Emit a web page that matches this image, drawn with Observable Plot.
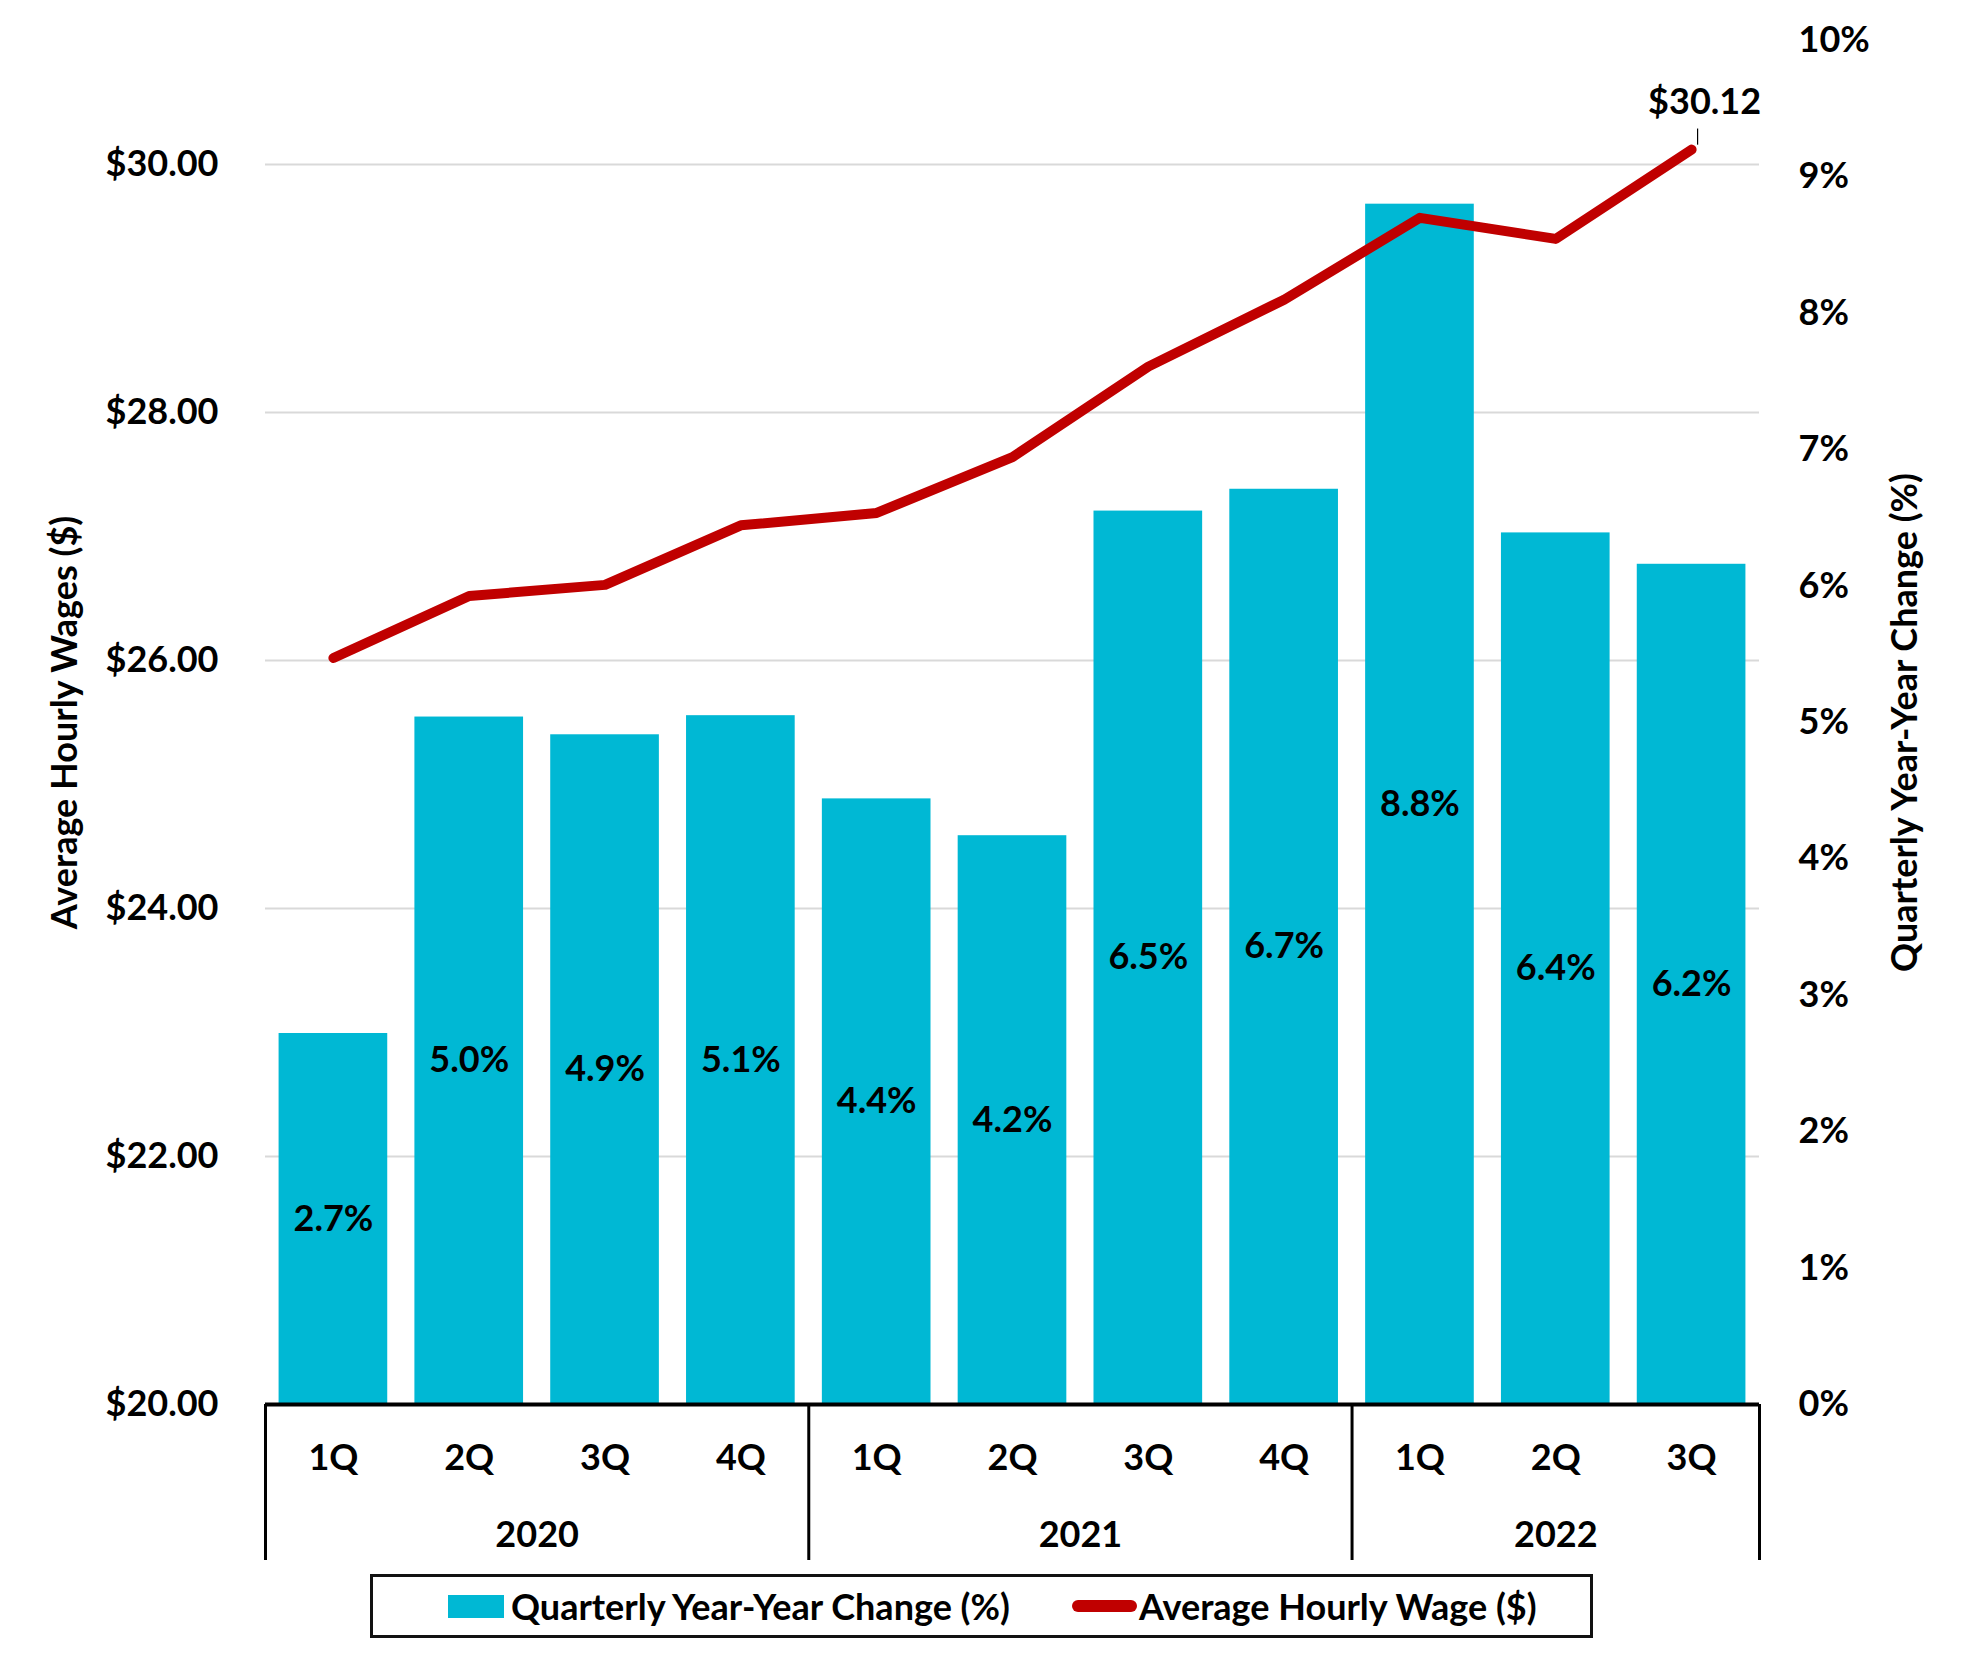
<!DOCTYPE html>
<html>
<head>
<meta charset="utf-8">
<script src="https://cdn.jsdelivr.net/npm/d3@7"></script>
<script src="https://cdn.jsdelivr.net/npm/@observablehq/plot@0.6"></script>
<style>
  body { margin: 0; background: #fff; font-family: Lato, "Open Sans", sans-serif; }
  #chart svg { display: block; }
  #legend {
    position: relative; margin-left: 370px; margin-top: 9px;
    width: 1217px; height: 58px; border: 3px solid #111; box-sizing: content-box;
    font-family: Lato, sans-serif; font-weight: bold; font-size: 36px; color: #000;
  }
  #legend .sw { position: absolute; left: 75px; top: 18px; width: 56px; height: 23px; }
  #legend .ln { position: absolute; left: 699px; top: 23px; width: 65px; height: 12px; border-radius: 6px; }
  #legend .t { position: absolute; top: 0; line-height: 58px; white-space: nowrap; }
</style>
</head>
<body>
<div id="chart"></div>
<div id="legend"></div>
<script>
// ---- data ----
const years = ["2020","2020","2020","2020","2021","2021","2021","2021","2022","2022","2022"];
const quarters = ["1Q","2Q","3Q","4Q","1Q","2Q","3Q","4Q","1Q","2Q","3Q"];
const pctChange = [2.72, 5.04, 4.91, 5.05, 4.44, 4.17, 6.55, 6.71, 8.80, 6.39, 6.16];
const pctLabels = ["2.7%","5.0%","4.9%","5.1%","4.4%","4.2%","6.5%","6.7%","8.8%","6.4%","6.2%"];
const wage = [26.02, 26.52, 26.61, 27.09, 27.19, 27.64, 28.37, 28.91, 29.57, 29.40, 30.12];
const wageTicks = [20, 22, 24, 26, 28, 30];
const pctTicks = [0, 1, 2, 3, 4, 5, 6, 7, 8, 9, 10];
const wageDomain = [20, 31];
const pctDomain = [0, 10];
const seriesNames = ["Quarterly Year-Year Change (%)", "Average Hourly Wage ($)"];
const axisTitles = ["Average Hourly Wages ($)", "Quarterly Year-Year Change (%)"];
const lastLabel = "$30.12";
const colors = {bar: "#00B8D4", line: "#C00000"};

// ---- layout ----
const W = 1963, H = 1565, ML = 265, MR = 204, MT = 40, MB = 5, plotBottom = 1404;
const FONT = 36;
const n = years.length;
const step = (W - ML - MR) / n;
const pxPerUnit = (plotBottom - MT) / (wageDomain[1] - wageDomain[0]);
const sepDepth = 156 / pxPerUnit;

const keys = years.map((y, i) => y + "|" + quarters[i]);
const data = keys.map((k, i) => ({key: k, year: years[i], q: quarters[i], pct: pctChange[i], label: pctLabels[i], wage: wage[i]}));
const toDollar = p => wageDomain[0] + (p - pctDomain[0]) * (wageDomain[1] - wageDomain[0]) / (pctDomain[1] - pctDomain[0]);
const toPct = v => pctDomain[0] + (v - wageDomain[0]) * (pctDomain[1] - pctDomain[0]) / (wageDomain[1] - wageDomain[0]);
const base = wageDomain[0];
const yMid = (wageDomain[0] + wageDomain[1]) / 2;

// year groups
const groups = [];
years.forEach((y, i) => {
  const g = groups.find(g => g.year === y);
  if (g) g.last = i; else groups.push({year: y, first: i, last: i});
});
const groupStarts = groups.map(g => keys[g.first]);
const lastKey = keys[n - 1];
const last = data[n - 1];

const bold = {fontSize: FONT, fontWeight: "bold", fill: "#000"};

const chart = Plot.plot({
  width: W, height: H,
  marginLeft: ML, marginRight: MR, marginTop: MT, marginBottom: MB,
  style: {fontFamily: "Lato, sans-serif", fontSize: FONT + "px", fontWeight: "bold", color: "#000", background: "#fff", overflow: "visible"},
  x: {type: "band", domain: keys, paddingInner: 0.2, paddingOuter: 0.1, round: false, axis: null},
  y: {domain: wageDomain, range: [plotBottom, MT], axis: null},
  marks: [
    Plot.ruleY(wageTicks.filter(v => v > base), {stroke: "#d9d9d9", strokeWidth: 2}),
    Plot.barY(data, {x: "key", y1: base, y2: d => toDollar(d.pct), fill: colors.bar}),
    Plot.ruleY([base], {stroke: "#000", strokeWidth: 4}),
    Plot.ruleX(groupStarts, {x: d => d, y1: base, y2: base - sepDepth, dx: -step / 2, stroke: "#000", strokeWidth: 3}),
    Plot.ruleX([lastKey], {x: d => d, y1: base, y2: base - sepDepth, dx: step / 2, stroke: "#000", strokeWidth: 3}),
    Plot.lineY(data, {x: "key", y: "wage", stroke: colors.line, strokeWidth: 10, strokeLinecap: "round", strokeLinejoin: "round"}),
    Plot.text(data, {x: "key", y: d => (base + toDollar(d.pct)) / 2, text: "label", lineAnchor: "middle", ...bold}),
    Plot.text(data, {x: "key", y: () => base, text: "q", dy: 54, lineAnchor: "middle", ...bold}),
    ...groups.map(g => Plot.text([g], {x: () => keys[g.first], y: () => base, text: "year", dx: (g.last - g.first) / 2 * step, dy: 131, lineAnchor: "middle", ...bold})),
    Plot.link([last], {x1: "key", x2: "key", y1: d => d.wage + 0.04, y2: d => d.wage + 0.17, dx: 6, stroke: "#000", strokeWidth: 1.2}),
    Plot.text([last], {x: "key", y: "wage", text: () => lastLabel, dx: 13, dy: -47, lineAnchor: "middle", ...bold}),
    Plot.axisY({anchor: "left", ticks: wageTicks, tickFormat: d => "$" + d.toFixed(2), tickSize: 0, tickPadding: 47, label: null, fontSize: FONT, fontWeight: "bold"}),
    Plot.axisY({anchor: "right", ticks: pctTicks.map(toDollar), tickFormat: d => Math.round(toPct(d)) + "%", tickSize: 0, tickPadding: 39, label: null, fontSize: FONT, fontWeight: "bold"}),
    Plot.text([axisTitles[0]], {frameAnchor: "left", y: () => yMid, dx: -200, rotate: -90, text: d => d, textAnchor: "middle", lineAnchor: "middle", ...bold}),
    Plot.text([axisTitles[1]], {frameAnchor: "right", y: () => yMid, dx: 146, rotate: -90, text: d => d, textAnchor: "middle", lineAnchor: "middle", ...bold})
  ]
});
document.getElementById("chart").appendChild(chart);

// legend
const lg = document.getElementById("legend");
lg.innerHTML =
  `<span class="sw" style="background:${colors.bar}"></span>` +
  `<span class="t" style="left:138px">${seriesNames[0]}</span>` +
  `<span class="ln" style="background:${colors.line}"></span>` +
  `<span class="t" style="left:766px">${seriesNames[1]}</span>`;
</script>
</body>
</html>
